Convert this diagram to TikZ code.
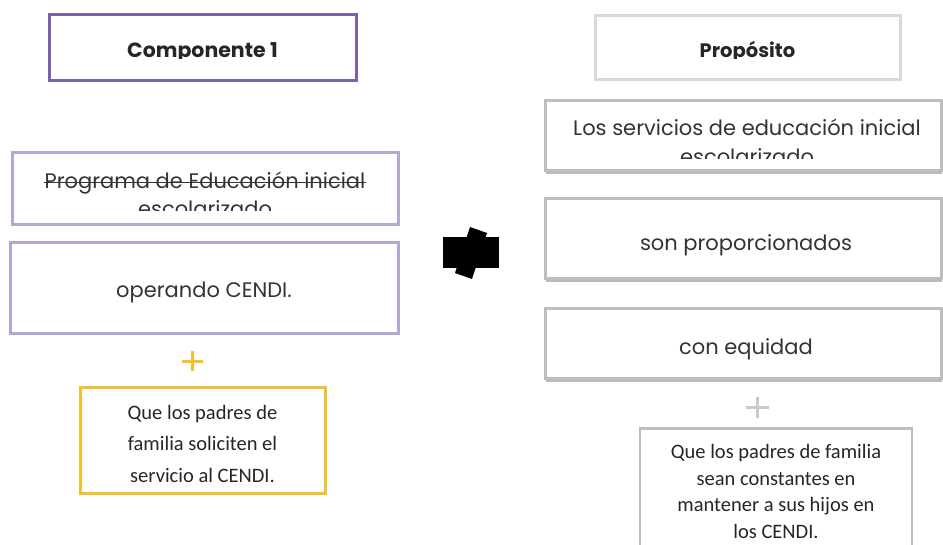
\documentclass[tikz,border=0pt]{standalone}
\usepackage{fontspec}
\usetikzlibrary{shadows}
\newfontfamily\gothic{Poppins}
\newfontfamily\calib{Carlito}
\definecolor{moradoOsc}{HTML}{7B62A6}
\definecolor{moradoCla}{HTML}{B4A7D6}
\definecolor{amarillo}{HTML}{F2C12E}
\definecolor{grisCla}{HTML}{D9D9D9}
\definecolor{grisMed}{HTML}{BDBDBD}
\tikzset{
  caja/.style={draw, line width=3pt, fill=white, inner sep=0pt},
  cajagris/.style={caja, draw=grisMed, drop shadow={shadow xshift=1pt, shadow yshift=-4pt, fill=black!45, opacity=0.6}},
  textogot/.style={font=\gothic\fontsize{21}{26}\selectfont, text=black!80, align=center, inner sep=0pt},
  titulo/.style={font=\gothic\bfseries\fontsize{20.5}{24}\selectfont, text=black!85, inner sep=0pt},
  textocal/.style={font=\calib\fontsize{20.5}{26.5}\selectfont, text=black!85, align=center, inner sep=0pt},
  mas/.style={line width=3pt}
}
\begin{document}
\begin{tikzpicture}[x=1pt,y=-1pt]
  \useasboundingbox (0,0) rectangle (943,544);
  \clip (0,0) rectangle (943,544);

  % Componente (izquierda)
  \node[caja, draw=moradoOsc, minimum width=307pt, minimum height=66pt] (comp) at (202.5,47) {};
  \begin{scope}
    \clip (50,15) rectangle (355,58);
    \node[titulo, anchor=base] (compT) at (202.5,57) {Componente 1};
  \end{scope}

  \node[caja, draw=moradoCla, minimum width=386pt, minimum height=72pt] (prog) at (205,188) {};
  \node[textogot, anchor=base] (progT) at (205,188) {Programa de Educación inicial};
  \draw[black!80, line width=1.2pt] ([yshift=5.5pt]progT.base west) -- ([yshift=5.5pt]progT.base east);
  \begin{scope}
    \clip (12,152) rectangle (398,210);
    \node[textogot, anchor=base] (progE) at (205,216) {escolarizado};
  \end{scope}

  \node[caja, draw=moradoCla, minimum width=388pt, minimum height=91pt] (oper) at (204,287.5) {};
  \node[textogot, anchor=base] (operT) at (204,297) {operando CENDI.};

  \coordinate (masA) at (192,361);
  \draw[mas, amarillo] ([xshift=-10.5pt]masA) -- ([xshift=10.5pt]masA)
    ([yshift=-10pt]masA) -- ([yshift=10pt]masA);

  \node[caja, draw=amarillo, minimum width=245pt, minimum height=106pt] (padres) at (202.5,440) {};
  \node[textocal, font=\calib\fontsize{20.5}{31.5}\selectfont, anchor=base] (padresT) at (202.5,482)
    {Que los padres de\\familia soliciten el\\servicio al CENDI.};

  % Flecha central
  \fill (443,237) rectangle (499,268);
  \fill (470,227) -- (487,233) -- (472,279) -- (455,273) -- cycle;

  % Propósito (derecha)
  \node[caja, draw=grisCla, minimum width=305pt, minimum height=64pt] (prop) at (747.5,47) {};
  \begin{scope}
    \clip (597,16) rectangle (898,58);
    \node[titulo, font=\gothic\bfseries\fontsize{19.5}{24}\selectfont, anchor=base] (propT) at (747.5,57) {Propósito};
  \end{scope}

  \node[cajagris, minimum width=396pt, minimum height=70pt] (serv) at (743,135) {};
  \node[textogot, anchor=base] (servT) at (747,135) {Los servicios de educación inicial};
  \begin{scope}
    \clip (545,100) rectangle (943,158);
    \node[textogot, anchor=base] (servE) at (747,164) {escolarizado};
  \end{scope}

  \node[cajagris, minimum width=396pt, minimum height=80pt] (son) at (743,238) {};
  \node[textogot, anchor=base] (sonT) at (746,250) {son proporcionados};

  \node[cajagris, minimum width=396pt, minimum height=70pt] (equi) at (743,343) {};
  \node[textogot, anchor=base] (equiT) at (746,354) {con equidad};

  \coordinate (masB) at (757,407);
  \draw[mas, grisMed!80] ([xshift=-11.5pt]masB) -- ([xshift=11.5pt]masB)
    ([yshift=-10.5pt]masB) -- ([yshift=10.5pt]masB);

  \node[caja, draw=grisMed, line width=2.5pt, minimum width=272pt, minimum height=140pt, anchor=north] (const) at (776,427) {};
  \node[textocal, anchor=base] (constT) at (776,538) {Que los padres de familia\\sean constantes en\\mantener a sus hijos en\\los CENDI.};
\end{tikzpicture}
\end{document}
